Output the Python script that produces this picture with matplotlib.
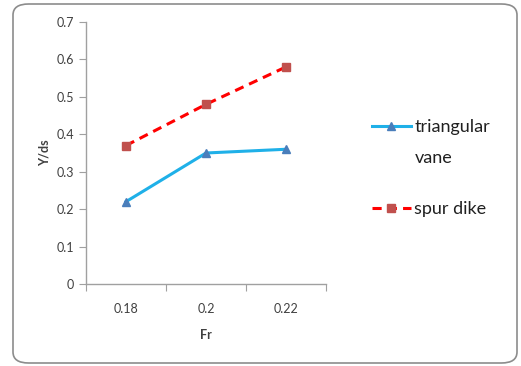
import matplotlib
matplotlib.use("Agg")
import matplotlib.pyplot as plt
from matplotlib.patches import FancyBboxPatch

categories = ["0.18", "0.2", "0.22"]
triangular_vane = [0.22, 0.35, 0.36]
spur_dike = [0.37, 0.48, 0.58]
yticks = [0, 0.1, 0.2, 0.3, 0.4, 0.5, 0.6, 0.7]
ytick_labels = ["0", "0.1", "0.2", "0.3", "0.4", "0.5", "0.6", "0.7"]

plt.rcParams['font.family'] = ['Lato', 'DejaVu Sans']

fig = plt.figure(figsize=(5.21, 3.66), dpi=100)
border = FancyBboxPatch((13/521, 3/366), (517-13)/521, (362-3)/366,
                        boxstyle="round,pad=0,rounding_size=0.03",
                        transform=fig.transFigure, facecolor='none',
                        edgecolor='#8c8c8c', linewidth=1.2, zorder=-1)
fig.patches.append(border)

ax = fig.add_axes([86/521, 1-284/366, (326-86)/521, (284-22)/366])
ax.set_facecolor('none')
x = list(range(len(categories)))
ax.plot(x, triangular_vane, color='#1fb0e8', linewidth=2.2, marker='^',
        markersize=6, markerfacecolor='#4a7ebb', markeredgecolor='#4a7ebb',
        label='triangular')
ax.plot(x, spur_dike, color='#ff0000', linewidth=2.2, linestyle=(0, (3, 2)),
        marker='s', markersize=6, markerfacecolor='#c0504d',
        markeredgecolor='#c0504d', label='spur dike')

ax.set_xlim(-0.5, len(categories) - 0.5)
ax.set_ylim(0, 0.7)
ax.set_yticks(yticks)
ax.set_yticklabels(ytick_labels)
ax.set_xticks([i - 0.5 for i in range(len(categories) + 1)])
ax.set_xticklabels([])
ax.set_xticks(x, minor=True)
ax.set_xticklabels(categories, minor=True)
ax.tick_params(axis='x', which='minor', length=0, pad=14, labelsize=9, colors='#404040')
ax.tick_params(axis='x', which='major', length=5, color='#a0a0a0')
ax.tick_params(axis='y', length=5, color='#a0a0a0', labelsize=9, labelcolor='#404040')
for s in ['top', 'right']:
    ax.spines[s].set_visible(False)
for s in ['left', 'bottom']:
    ax.spines[s].set_color('#a0a0a0')
    ax.spines[s].set_linewidth(1)

ax.set_xlabel('Fr', fontsize=9, fontweight='bold', color='#404040', labelpad=10)
ax.set_ylabel('Y/ds', fontsize=9, fontweight='bold', color='#404040', labelpad=4)

leg = fig.legend(loc='upper left', bbox_to_anchor=(372/521, 1-119/366),
                 bbox_transform=fig.transFigure, frameon=False,
                 fontsize=13, handlelength=2.15, handletextpad=0.2,
                 labelspacing=3.65, labelcolor='#202020', borderpad=0,
                 borderaxespad=0)

fig.canvas.draw()
t = leg.get_texts()[0]
bb = t.get_window_extent()
fig.text(bb.x0 / fig.bbox.width, (bb.y0 - 15) / fig.bbox.height, 'vane',
         fontsize=13, color='#202020', va='top', ha='left')

fig.savefig('out.png', dpi=100)
